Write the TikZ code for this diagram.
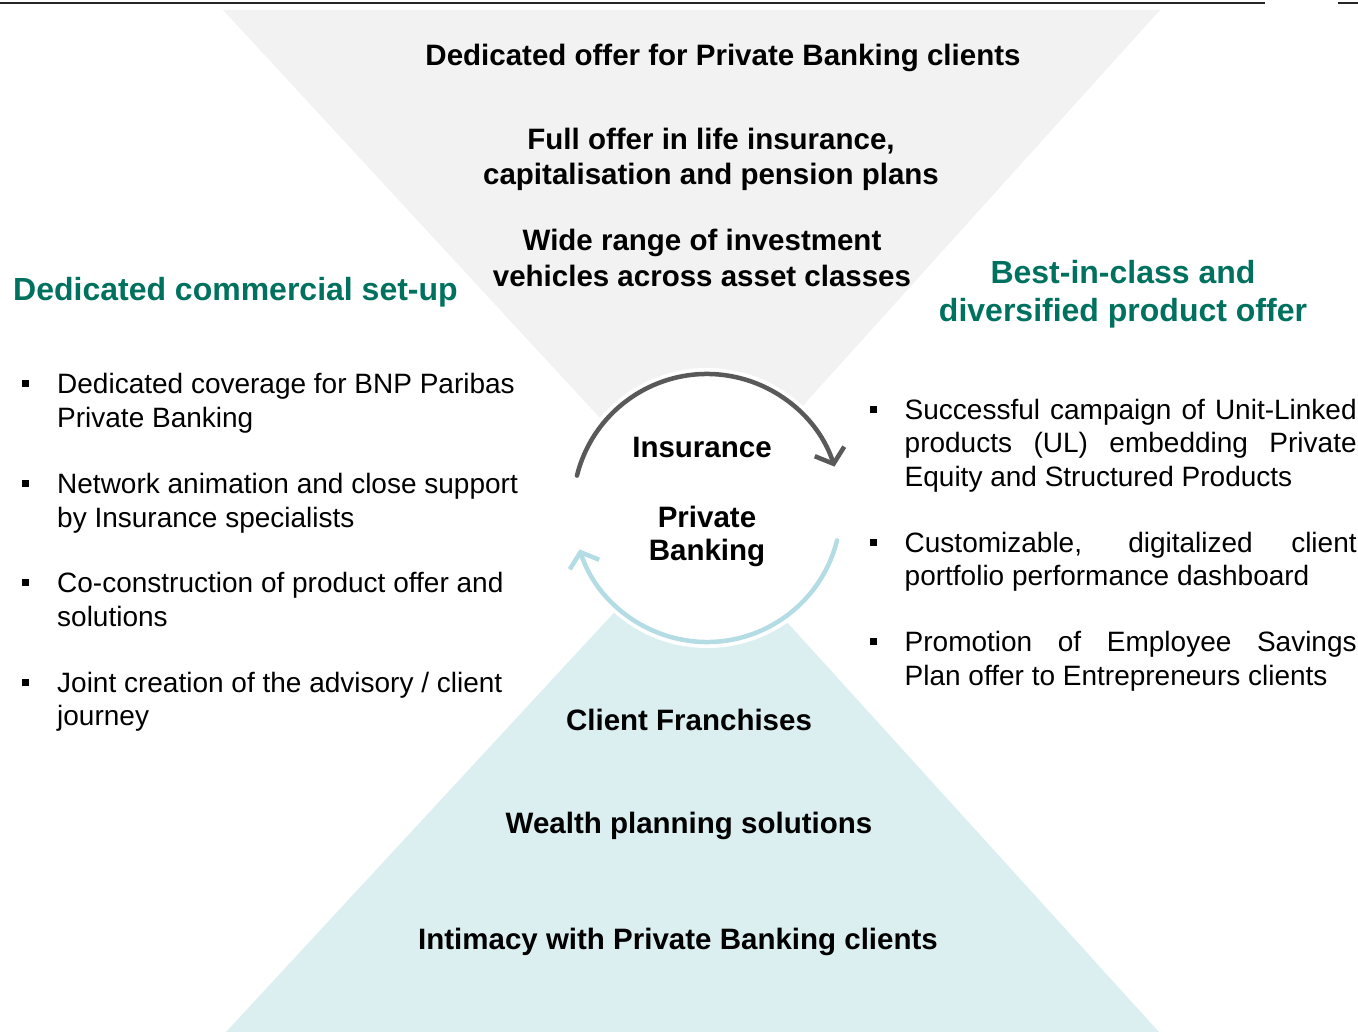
\documentclass[tikz,border=0pt]{standalone}
\usepackage{fontspec}
\setmainfont{Liberation Sans}
\usetikzlibrary{arrows.meta}

\definecolor{funnelgray}{HTML}{F2F2F2}
\definecolor{funnelteal}{HTML}{DBEFF1}
\definecolor{arcdark}{HTML}{595959}
\definecolor{arclight}{HTML}{B4DCE4}
\definecolor{headgreen}{HTML}{00715E}
\definecolor{rulegray}{HTML}{262626}

\tikzset{
  boldtxt/.style={font=\fontsize{29.5}{35}\selectfont\bfseries, inner sep=0pt, anchor=base},
  headtxt/.style={font=\fontsize{32}{38}\selectfont\bfseries, text=headgreen, inner sep=0pt, anchor=base},
  bodytxt/.style={font=\fontsize{28}{34}\selectfont, inner sep=0pt, anchor=base west},
  bulletsq/.style={fill=black, minimum size=7pt, inner sep=0pt},
  cyclearc/.style={line width=4.5pt, line cap=round, -{Straight Barb[length=13pt,width=31pt,line width=4.5pt]}},
}

\begin{document}
\begin{tikzpicture}[x=1pt,y=-1pt]
  \useasboundingbox (0,0) rectangle (1358,1032);

  % header rule
  \draw[rulegray, line width=2pt] (0,3) -- (1265,3);
  \draw[rulegray, line width=2pt] (1338,3) -- (1358,3);

  % the two funnels
  \fill[funnelgray] (223,10) -- (1160,10) -- (697,523) -- cycle;
  \fill[funnelteal] (226,1032) -- (1159,1032) -- (697,523) -- cycle;

  % central disc and cycle arrows
  \coordinate (hub) at (707,508);
  \fill[white] (hub) circle[radius=140];
  \draw[arcdark, cyclearc] (hub) ++(-166:134) arc[start angle=-166, end angle=-18, radius=134];
  \draw[arclight, cyclearc] (hub) ++(14:134) arc[start angle=14, end angle=162, radius=134];

  % centre labels
  \node[boldtxt] (ins) at (702,457.5) {Insurance};
  \node[boldtxt] (pb1) at (707,527.5) {Private};
  \node[boldtxt] (pb2) at (707,560.5) {Banking};

  % upper funnel texts
  \node[boldtxt] (t1) at (723,65.5) {Dedicated offer for Private Banking clients};
  \node[boldtxt] (t2a) at (711,149.5) {Full offer in life insurance,};
  \node[boldtxt] (t2b) at (711,184.5) {capitalisation and pension plans};
  \node[boldtxt] (t3a) at (702,250.5) {Wide range of investment};
  \node[boldtxt] (t3b) at (702,286.5) {vehicles across asset classes};

  % lower funnel texts
  \node[boldtxt] (b1) at (689,730.5) {Client Franchises};
  \node[boldtxt] (b2) at (689,833.5) {Wealth planning solutions};
  \node[boldtxt] (b3) at (678,949.5) {Intimacy with Private Banking clients};

  % headings
  \node[headtxt, anchor=base west] (hl) at (13,300.5) {Dedicated commercial set-up};
  \node[headtxt] (hr1) at (1123,283.5) {Best-in-class and};
  \node[headtxt] (hr2) at (1123,321.5) {diversified product offer};

  % left bullet list
  \node[bulletsq] (lb1) at (25,384) {};
  \node[bodytxt] (l1a) at (57,394) {Dedicated coverage for BNP Paribas};
  \node[bodytxt] (l1b) at (57,428) {Private Banking};
  \node[bulletsq] (lb2) at (25,483) {};
  \node[bodytxt] (l2a) at (57,493) {Network animation and close support};
  \node[bodytxt] (l2b) at (57,527) {by Insurance specialists};
  \node[bulletsq] (lb3) at (25,582) {};
  \node[bodytxt] (l3a) at (57,592) {Co-construction of product offer and};
  \node[bodytxt] (l3b) at (57,626) {solutions};
  \node[bulletsq] (lb4) at (25,682) {};
  \node[bodytxt] (l4a) at (57,692) {Joint creation of the advisory / client};
  \node[bodytxt] (l4b) at (57,725) {journey};

  % right bullet list (justified)
  \node[bulletsq] (rb1) at (873,409.5) {};
  \node[bodytxt] (r1a) at (904.5,419) {\makebox[452pt][s]{Successful campaign of Unit-Linked}};
  \node[bodytxt] (r1b) at (904.5,452) {\makebox[452pt][s]{products (UL) embedding Private}};
  \node[bodytxt] (r1c) at (904.5,486) {Equity and Structured Products};
  \node[bulletsq] (rb2) at (873,542.5) {};
  \node[bodytxt] (r2a) at (904.5,552) {\makebox[452pt][s]{Customizable, digitalized client}};
  \node[bodytxt] (r2b) at (904.5,585) {portfolio performance dashboard};
  \node[bulletsq] (rb3) at (873,641.5) {};
  \node[bodytxt] (r3a) at (904.5,651) {\makebox[452pt][s]{Promotion of Employee Savings}};
  \node[bodytxt] (r3b) at (904.5,685) {Plan offer to Entrepreneurs clients};
\end{tikzpicture}
\end{document}
